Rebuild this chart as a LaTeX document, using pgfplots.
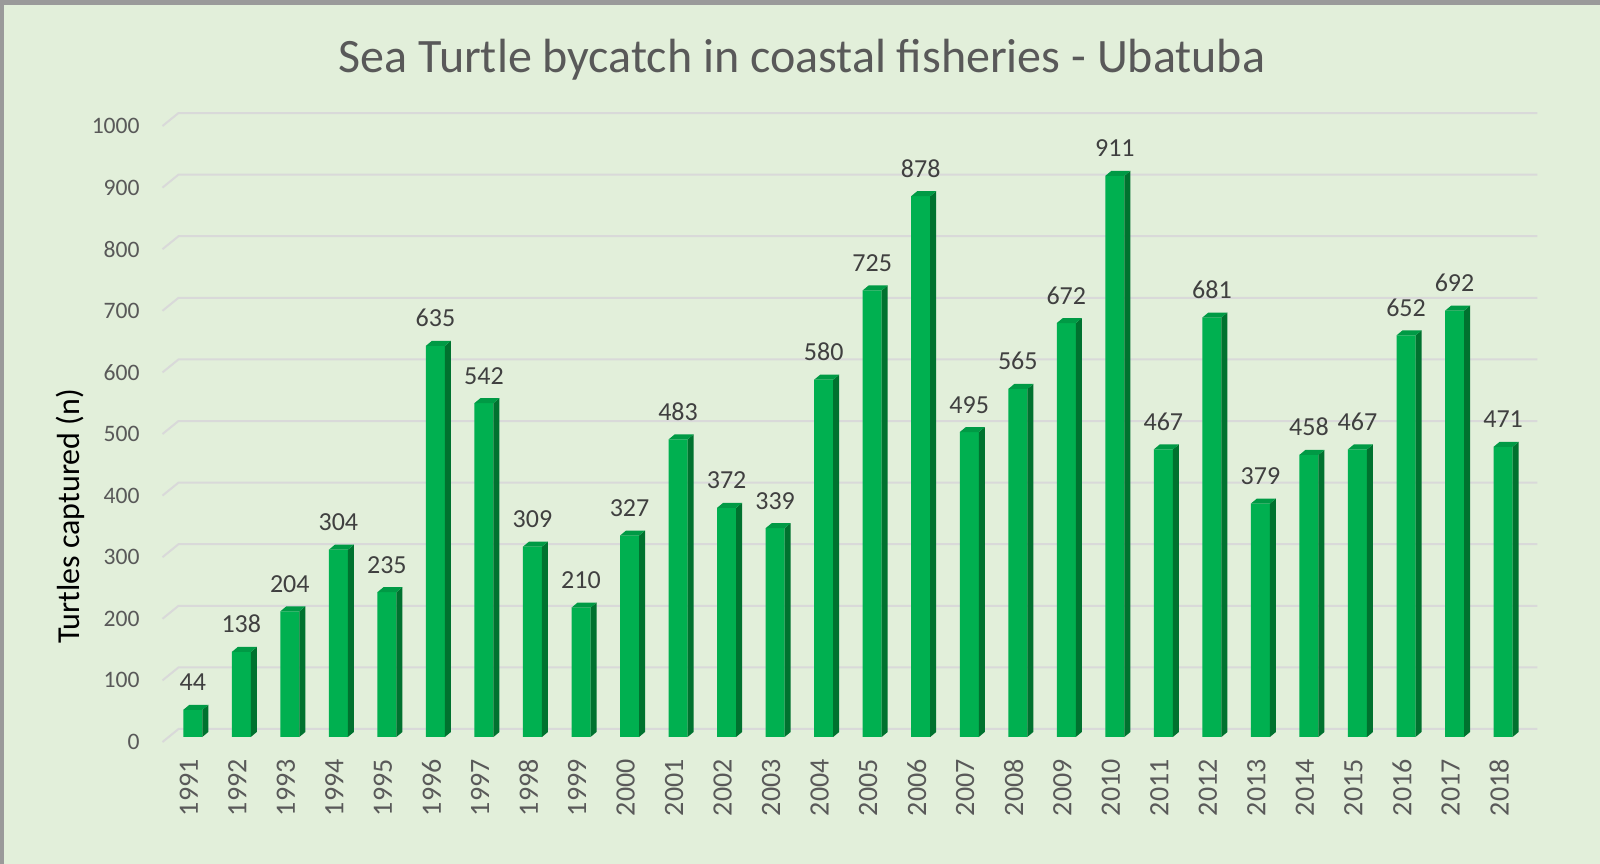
\documentclass[border=0pt]{standalone}
\usepackage{fontspec}
\setmainfont{Carlito}
\usepackage{pgfplots}
\pgfplotsset{compat=1.18}
\usepackage{pgfplotstable}

\definecolor{bg}{HTML}{E2EFDA}
\definecolor{frame}{HTML}{9A9A9A}
\definecolor{gridc}{HTML}{D9D9D9}
\definecolor{txt}{HTML}{595959}
\definecolor{lbl}{HTML}{404040}
\definecolor{barfront}{HTML}{00B050}
\definecolor{barside}{HTML}{00722F}
\definecolor{bartop}{HTML}{009A45}

\pgfplotstableread{
i year v
0 1991 44
1 1992 138
2 1993 204
3 1994 304
4 1995 235
5 1996 635
6 1997 542
7 1998 309
8 1999 210
9 2000 327
10 2001 483
11 2002 372
12 2003 339
13 2004 580
14 2005 725
15 2006 878
16 2007 495
17 2008 565
18 2009 672
19 2010 911
20 2011 467
21 2012 681
22 2013 379
23 2014 458
24 2015 467
25 2016 652
26 2017 692
27 2018 471
}\turtles

\begin{document}
\begin{tikzpicture}
\useasboundingbox (0,0) rectangle (800bp,432bp);
\fill[bg] (0,0) rectangle (800bp,432bp);
\fill[frame] (0,429.5bp) rectangle (800bp,432bp);
\fill[frame] (0,0) rectangle (2bp,432bp);

\node[anchor=base, text=txt, font=\fontsize{24bp}{29bp}\selectfont] at (401bp,395.5bp)
  {Sea Turtle bycatch in coastal fisheries - Ubatuba};

\begin{axis}[
    at={(84.25bp,63.5bp)}, anchor=south west,
    x=24.265bp, y=0.308bp,
    xmin=-0.5, xmax=27.5,
    ymin=0, ymax=1000,
    enlargelimits=false,
    axis line style={draw=none},
    tick style={draw=none},
    clip=false,
    ytick={0,100,...,1000},
    xtick=data,
    xticklabels from table={\turtles}{year},
    /pgf/number format/1000 sep={},
    /pgf/number format/assume math mode=true,
    ticklabel style={text=txt},
    yticklabel style={anchor=east, inner sep=0pt, xshift=-14.25bp, yshift=-2.5bp,
        font=\fontsize{11.8bp}{14bp}\selectfont},
    xticklabel style={rotate=90, anchor=east, inner sep=0pt, yshift=2bp,
        font=\fontsize{14bp}{17bp}\selectfont},
    xticklabel shift=11bp,
    ylabel={Turtles captured (n)},
    ylabel style={at={(axis description cs:-0.0725,0.358)}, anchor=center,
        font=\fontsize{16bp}{19bp}\selectfont, text=black},
]
% back-wall gridlines with their short floor stubs
\pgfplotsinvokeforeach{0,100,...,1000}{
  \draw[gridc, line width=1bp]
    ([shift={(-3bp,-2.5bp)}]axis cs:-0.5,#1) --
    ([shift={(5bp,4bp)}]axis cs:-0.5,#1) --
    ([shift={(5bp,4bp)}]axis cs:27.5,#1);
}
% front faces
\addplot[ybar, bar width=9.5bp, fill=barfront, draw=none,
    nodes near coords,
    nodes near coords style={anchor=base, yshift=9.5bp, text=lbl,
        font=\fontsize{13bp}{15bp}\selectfont,
        /pgf/number format/assume math mode=true}]
    table[x=i, y=v] {\turtles};
% side and top faces
\addplot[only marks, mark=*, mark size=0pt,
    mark options={draw=none, fill=none},
    visualization depends on={\thisrow{v} \as \barval},
    scatter,
    scatter/@pre marker code/.code={
      \pgfsetfillcolor{barside}
      \pgfpathmoveto{\pgfpoint{4.75bp}{0bp}}
      \pgfpathlineto{\pgfpoint{7.75bp}{2.5bp}}
      \pgfpathlineto{\pgfpoint{7.75bp}{2.5bp-\barval*0.308bp}}
      \pgfpathlineto{\pgfpoint{4.75bp}{-\barval*0.308bp}}
      \pgfpathclose
      \pgfusepath{fill}
      \pgfsetfillcolor{bartop}
      \pgfpathmoveto{\pgfpoint{-4.75bp}{0bp}}
      \pgfpathlineto{\pgfpoint{4.75bp}{0bp}}
      \pgfpathlineto{\pgfpoint{7.75bp}{2.5bp}}
      \pgfpathlineto{\pgfpoint{-1.75bp}{2.5bp}}
      \pgfpathclose
      \pgfusepath{fill}
    },
    scatter/@post marker code/.code={}]
    table[x=i, y=v] {\turtles};
\end{axis}
\end{tikzpicture}
\end{document}
